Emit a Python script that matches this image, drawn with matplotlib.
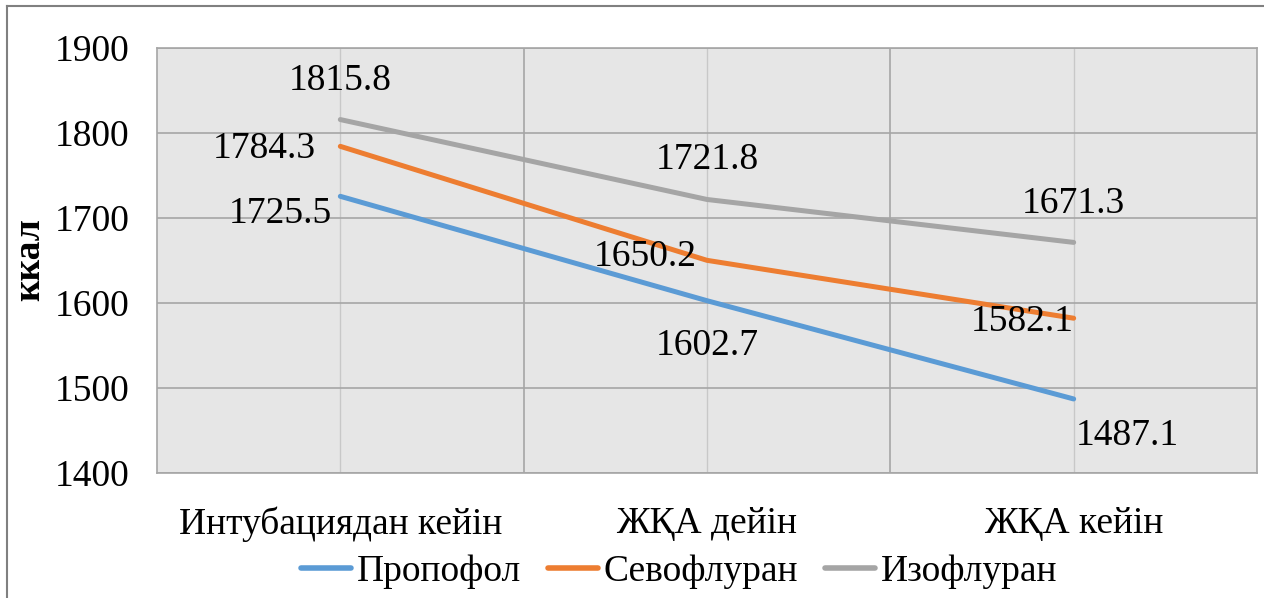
import matplotlib
matplotlib.use("Agg")
import matplotlib.pyplot as plt
from matplotlib.lines import Line2D

categories = ["Интубациядан кейін", "ЖҚА дейін", "ЖҚА кейін"]
series_names = ["Пропофол", "Севофлуран", "Изофлуран"]
propofol = [1725.5, 1602.7, 1487.1]
sevoflurane = [1784.3, 1650.2, 1582.1]
isoflurane = [1815.8, 1721.8, 1671.3]
y_ticks = [1400, 1500, 1600, 1700, 1800, 1900]
y_label = "ккал"

colors = ["#5B9BD5", "#ED7D31", "#A5A5A5"]
# label placement (pixel offsets, alignment) per series per point
label_style = [
    [(-8, -17, "right"), (0, -45, "center"), (2, -37, "left")],
    [(-24, -2, "right"), (-10, 4, "right"), (0, -4, "right")],
    [(0, 39, "center"), (0, 40, "center"), (0, 39, "center")],
]

plt.rcParams["font.family"] = ["Liberation Serif", "DejaVu Serif"]
FS = 27

fig = plt.figure(figsize=(12.64, 5.98), dpi=100)
W, H = 1264, 598
ax = fig.add_axes([157 / W, 1 - 473 / H, 1100 / W, 425 / H])
ax.set_facecolor("#E6E6E6")

x = list(range(len(categories)))
data = [propofol, sevoflurane, isoflurane]
for vals, col, name, styles in zip(data, colors, series_names, label_style):
    ax.plot(x, vals, color=col, lw=3.6, solid_capstyle="round", label=name, zorder=3)
    for xi, v, (dx, dy, ha) in zip(x, vals, styles):
        ax.annotate(f"{v:.1f}", (xi, v), xytext=(dx, dy), textcoords="offset pixels",
                    ha=ha, va="center", fontsize=FS, color="black", zorder=4)

ax.set_xlim(-0.5, len(categories) - 0.5)
ax.set_ylim(y_ticks[0], y_ticks[-1])
ax.set_yticks(y_ticks)
ax.set_xticks(x)
ax.set_xticklabels(categories)
ax.set_xticks([0.5, 1.5], minor=True)
ax.tick_params(axis="both", which="both", length=0, labelsize=FS)
ax.tick_params(axis="y", pad=20)
ax.tick_params(axis="x", pad=24)

ax.grid(axis="y", color="#A6A6A6", lw=1.2, zorder=1)
ax.grid(axis="x", which="major", color="#C8C8C8", lw=1.0, zorder=1)
ax.grid(axis="x", which="minor", color="#A6A6A6", lw=1.2, zorder=1)
ax.set_axisbelow(True)
for s in ax.spines.values():
    s.set_color("#A6A6A6")
    s.set_linewidth(1.2)

fig.text(30 / W, 1 - 260 / H, y_label, rotation=90, ha="center", va="center",
         fontsize=FS, fontweight="bold")

handles = [Line2D([0], [0], color=c, lw=4, solid_capstyle="round") for c in colors]
fig.legend(handles, series_names, loc="center", bbox_to_anchor=(679 / W, 1 - 572 / H),
           ncol=3, frameon=False, fontsize=FS, handlelength=1.35, handletextpad=0.15,
           columnspacing=0.7, borderpad=0, borderaxespad=0)

# outer chart border
fig.add_artist(Line2D([7 / W, 7 / W], [0, 1 - 6 / H], transform=fig.transFigure,
                      color="#808080", lw=1.5))
fig.add_artist(Line2D([7 / W, 1], [1 - 6 / H, 1 - 6 / H], transform=fig.transFigure,
                      color="#808080", lw=1.5))

fig.savefig("out.png", dpi=100)
